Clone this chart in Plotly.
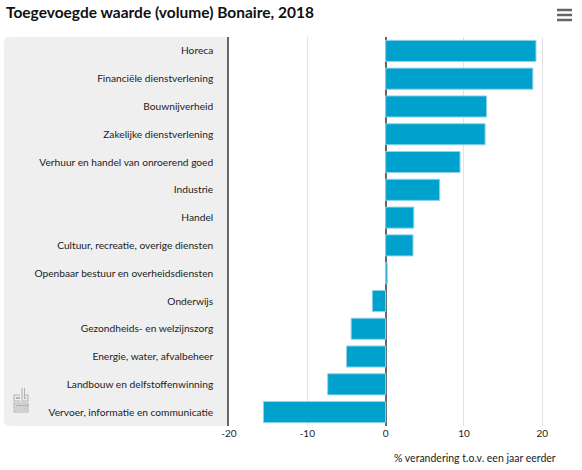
import plotly.graph_objects as go

categories = [
    "Horeca",
    "Financiële dienstverlening",
    "Bouwnijverheid",
    "Zakelijke dienstverlening",
    "Verhuur en handel van onroerend goed",
    "Industrie",
    "Handel",
    "Cultuur, recreatie, overige diensten",
    "Openbaar bestuur en overheidsdiensten",
    "Onderwijs",
    "Gezondheids- en welzijnszorg",
    "Energie, water, afvalbeheer",
    "Landbouw en delfstoffenwinning",
    "Vervoer, informatie en communicatie",
]
values = [19.2, 18.8, 12.9, 12.7, 9.5, 6.9, 3.6, 3.5, 0.2, -1.7, -4.4, -5.0, -7.4, -15.6]
x_ticks = [-20, -10, 0, 10, 20]
x_tick_labels = ["-20", "-10", "0", "10", "20"]

W, H = 582, 470
L, R, T, B = 229, 10, 37, 44
PW, PH = W - L - R, H - T - B


def px(x):
    return (x - L) / PW


def py(y):
    return (H - B - y) / PH


fig = go.Figure()
fig.add_trace(go.Bar(
    y=categories, x=values, orientation="h",
    marker=dict(color="#00a1cd", line=dict(color="#8fd3ea", width=1)),
    width=0.76, hoverinfo="x+y",
))

shapes = []
# gray panel with rounded left corners
x0, x1, y0, y1, r = 4, 229, 37, 426, 6
path = (f"M {px(x1)},{py(y0)} L {px(x0 + r)},{py(y0)} Q {px(x0)},{py(y0)} {px(x0)},{py(y0 + r)} "
        f"L {px(x0)},{py(y1 - r)} Q {px(x0)},{py(y1)} {px(x0 + r)},{py(y1)} L {px(x1)},{py(y1)} Z")
shapes.append(dict(type="path", xref="paper", yref="paper", path=path,
                   fillcolor="#efefef", line=dict(width=0), layer="below"))
# hamburger icon
for yy in (10, 15, 20):
    shapes.append(dict(type="line", xref="paper", yref="paper",
                       x0=px(557), x1=px(572), y0=py(yy), y1=py(yy),
                       line=dict(color="#666666", width=2.5)))
# cbs logo (simplified)
lg = "#b3b3b3"
logo_paths = [
    # c
    [(20, 395), (14, 395), (14, 401), (20, 401)],
    [(20, 397.5), (16.5, 397.5), (16.5, 398.5), (20, 398.5)],
    # b
    [(22, 388), (22, 401), (28, 401), (28, 395), (24.5, 395)],
    [(24.5, 388), (24.5, 398.5), (25.5, 398.5), (25.5, 397.5)],
    # s
    [(28, 403), (14, 403), (14, 408), (26, 408), (26, 410), (14, 410), (14, 412), (28, 412),
     (28, 406), (16, 406), (16, 405), (28, 405), (28, 403)],
]
for pts in logo_paths:
    d = "M " + " L ".join(f"{px(a)},{py(b)}" for a, b in pts)
    shapes.append(dict(type="path", xref="paper", yref="paper", path=d,
                       line=dict(color=lg, width=1.1)))

fig.update_layout(
    width=W, height=H,
    margin=dict(l=L, r=R, t=T, b=B),
    paper_bgcolor="white", plot_bgcolor="rgba(0,0,0,0)",
    font=dict(family="Lato, sans-serif", size=10, color="#222222"),
    showlegend=False,
    bargap=0.24,
    shapes=shapes,
    title=dict(text="<b>Toegevoegde waarde (volume) Bonaire, 2018</b>",
               x=6 / W, xref="container", xanchor="left",
               y=1 - 13 / H, yref="container", yanchor="middle",
               font=dict(family="Lato, sans-serif", size=15.5, color="#111111")),
    annotations=[dict(text="% verandering t.o.v. een jaar eerder", xref="paper", yref="paper",
                      x=px(558), y=py(458), xanchor="right", yanchor="middle",
                      showarrow=False, font=dict(size=10.5, color="#222222"))],
)
fig.update_xaxes(range=[-20, 23.8], tickvals=x_ticks, ticktext=x_tick_labels,
                 showgrid=True, gridcolor="#e3e3e3",
                 gridwidth=1, zeroline=True, zerolinecolor="#666666", zerolinewidth=1.5,
                 showline=False, ticks="", tickfont=dict(size=10, color="#222222"),
                 fixedrange=True)
fig.update_yaxes(autorange="reversed", showline=True, linecolor="#666666", linewidth=1.5,
                 ticks="", ticklabelstandoff=12, showgrid=False,
                 tickfont=dict(size=10.2, color="#222222"), fixedrange=True)

fig.write_html("out.html", config={"displayModeBar": False},
               post_script="document.body.style.margin='0';document.body.style.padding='0';")
